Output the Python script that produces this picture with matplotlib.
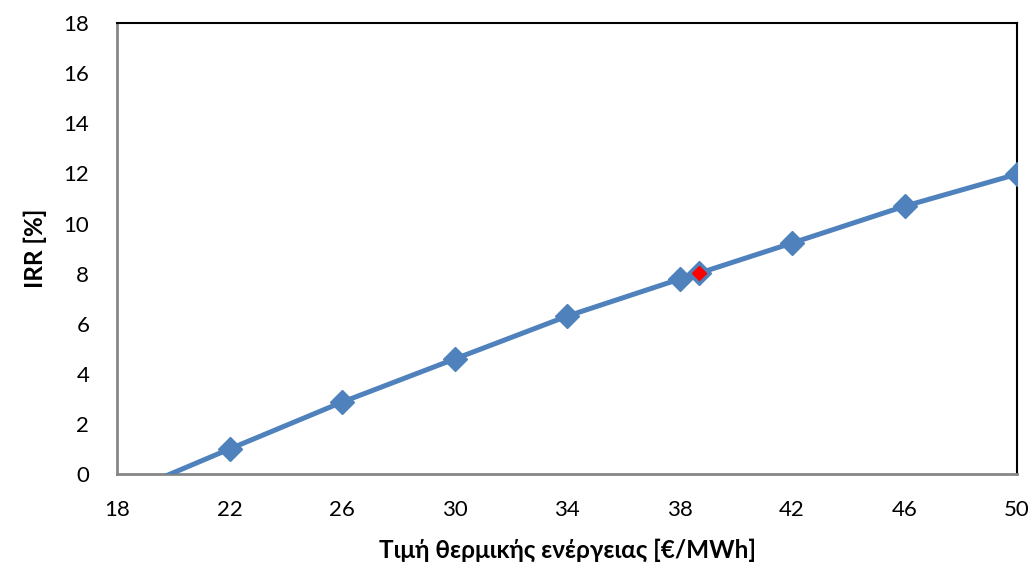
import matplotlib.pyplot as plt

# thermal energy price [EUR/MWh] vs IRR [%]
price = [18, 22, 26, 30, 34, 38, 38.7, 42, 46, 50]
irr = [-0.9, 1.0, 2.87, 4.59, 6.3, 7.78, 8.02, 9.22, 10.69, 11.97]

# selected operating point
sel_price = [38.7]
sel_irr = [8.02]

plt.rcParams['font.family'] = ['Lato', 'DejaVu Sans']

fig = plt.figure(figsize=(10.34, 5.63), dpi=100)
ax = fig.add_axes([0.1132, 0.158, 0.8704, 0.801])

ax.plot(price, irr, color='#4F81BD', lw=3.6, marker='D', markersize=12,
        markerfacecolor='#4F81BD', markeredgecolor='#4F81BD', zorder=3)
ax.plot(sel_price, sel_irr, ls='none', marker='D', markersize=7,
        color='#FF0000', zorder=4)

ax.set_xlim(18, 50)
ax.set_ylim(0, 18)
ax.set_xticks(range(18, 51, 4))
ax.set_yticks(range(0, 19, 2))
ax.tick_params(length=0, labelsize=16, pad=19)
ax.tick_params(axis='y', pad=20)

ax.set_xlabel('Τιμή θερμικής ενέργειας [€/MWh]', fontsize=17.5, fontweight='bold', labelpad=13)
ax.set_ylabel('IRR [%]', fontsize=17.5, fontweight='bold', labelpad=12)

for s in ['left', 'bottom']:
    ax.spines[s].set_color('#868686')
    ax.spines[s].set_linewidth(2)
for s in ['top', 'right']:
    ax.spines[s].set_color('black')
    ax.spines[s].set_linewidth(1.5)

fig.savefig('out.png', dpi=100)
